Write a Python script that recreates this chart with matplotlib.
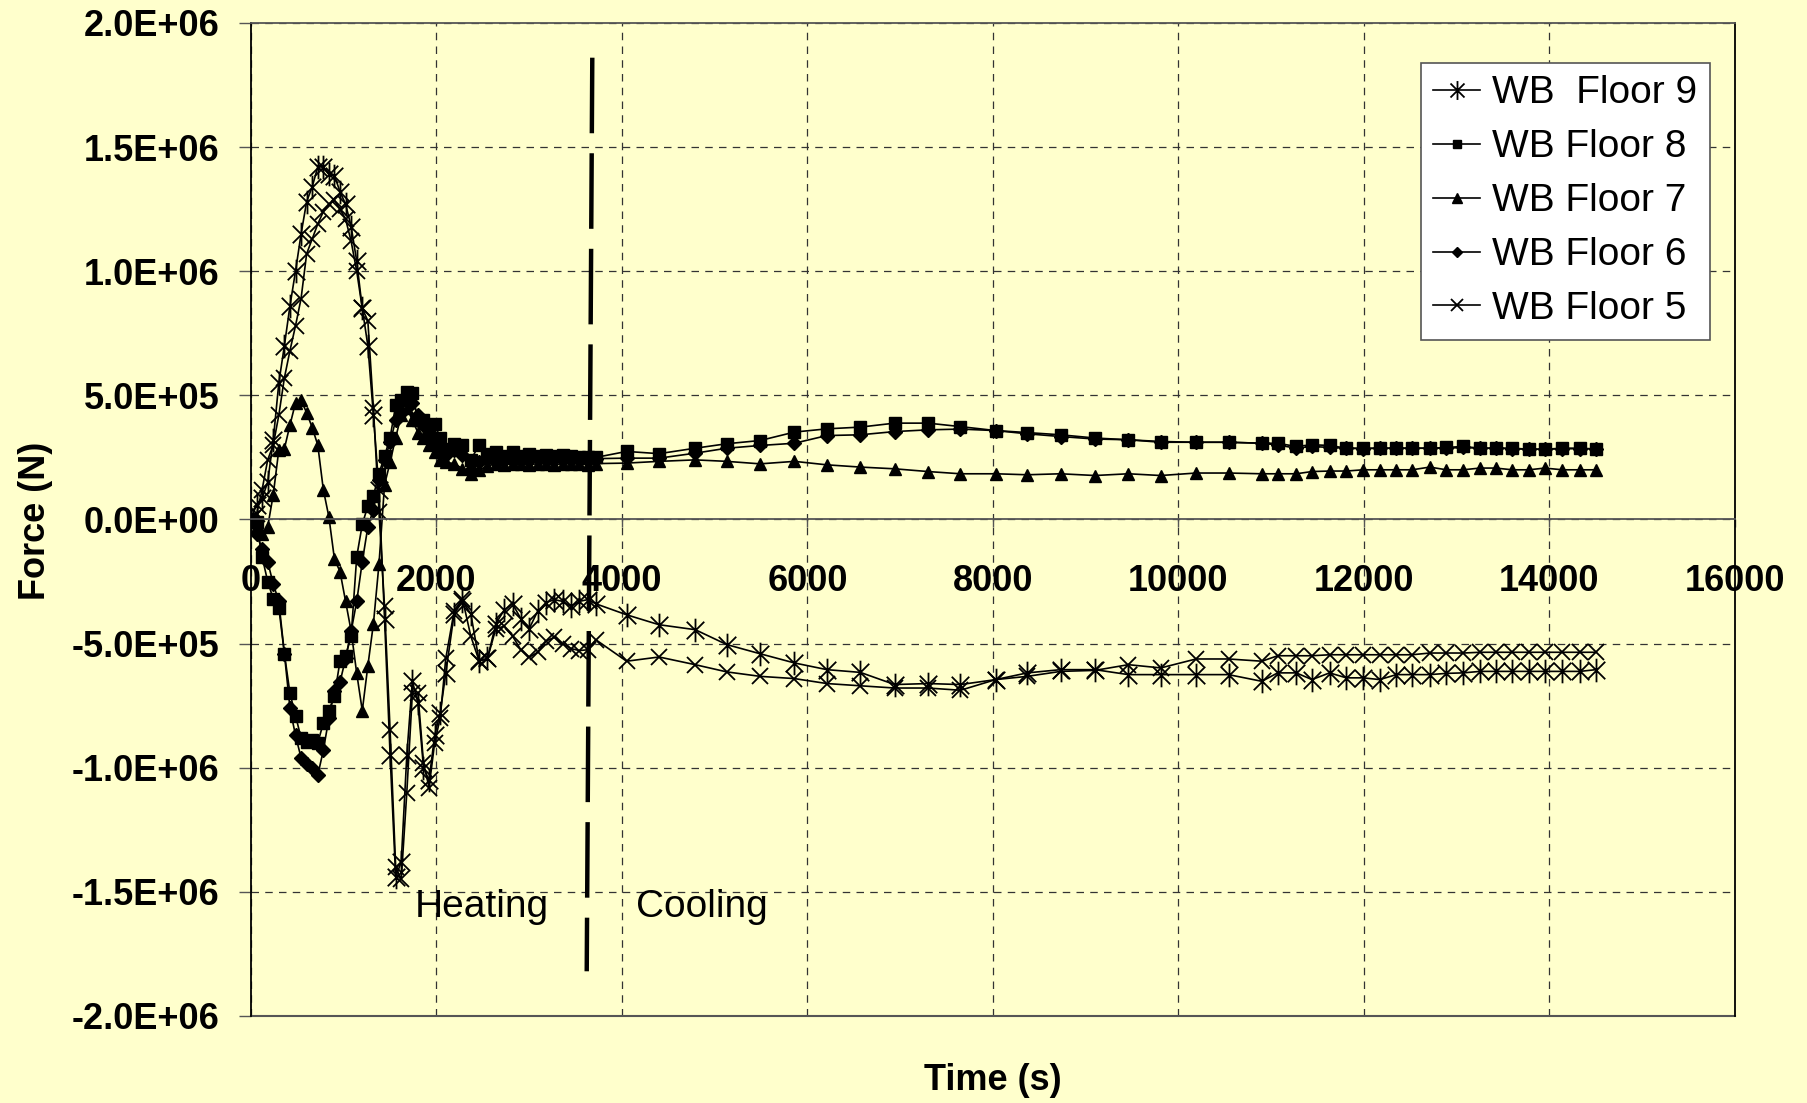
import matplotlib
matplotlib.use("Agg")
import matplotlib.pyplot as plt
from matplotlib.path import Path
from matplotlib.ticker import FuncFormatter, MultipleLocator

plt.rcParams['font.family'] = ['Liberation Sans', 'DejaVu Sans']

# time steps (s): heating phase then cooling phase
time_s = [0, 60, 120, 180, 240, 300, 360, 420, 480, 540, 600, 660, 720, 780, 840, 900,
          960, 1020, 1080, 1140, 1200, 1260, 1320, 1380, 1440, 1500, 1560, 1620, 1680,
          1740, 1800, 1860, 1920, 1980, 2040, 2100, 2190, 2280, 2370, 2460, 2550, 2640,
          2730, 2820, 2910, 3000, 3090, 3180, 3270, 3360, 3450, 3540, 3630, 3720,
          4050, 4400, 4790, 5130, 5490, 5860, 6210, 6570, 6940, 7300, 7650, 8030, 8370,
          8730, 9100, 9460, 9810, 10190, 10540, 10900, 11070, 11270, 11440, 11630, 11810,
          11990, 12170, 12350, 12520, 12710, 12890, 13070, 13250, 13420, 13600, 13780,
          13950, 14140, 14330, 14500]

# forces in kN
wb_floor9 = [0, 60, 85, 150, 320, 550, 700, 860, 1000, 1150, 1280, 1340, 1420, 1420, 1390,
             1385, 1320, 1270, 1180, 1040, 850, 700, 420, 120, -400, -950, -1440, -1380,
             -950, -650, -740, -1000, -1050, -870, -780, -620, -380, -330, -380, -570, -560,
             -420, -365, -340, -400, -440, -370, -335, -323, -330, -350, -330, -323, -340,
             -384, -424, -444, -504, -541, -578, -605, -616, -665, -661, -665, -645, -618,
             -605, -605, -625, -625, -625, -625, -652, -618, -618, -645, -618, -638, -638,
             -645, -625, -625, -625, -620, -618, -612, -612, -612, -612, -612, -612, -612, -605]
wb_floor8 = [0, -10, -150, -250, -320, -355, -540, -700, -790, -880, -895, -890, -900, -820,
             -770, -710, -570, -550, -470, -150, -20, 55, 95, 185, 255, 330, 460, 480, 515,
             510, 400, 400, 350, 385, 330, 285, 305, 300, 240, 300, 265, 270, 255, 270, 255,
             265, 255, 260, 255, 260, 255, 250, 250, 250,
             274, 265, 287, 305, 318, 352, 365, 372, 388, 388, 374, 358, 350, 341, 328, 321,
             314, 311, 311, 307, 307, 294, 301, 298, 287, 287, 287, 287, 287, 287, 290, 294,
             287, 287, 287, 283, 283, 287, 287, 283]
wb_floor7 = [0, -30, -60, -30, 100, 280, 285, 380, 470, 480, 430, 370, 300, 120, 10, -160,
             -210, -330, -450, -620, -770, -590, -420, -180, 140, 230, 330, 420, 450, 400,
             350, 330, 300, 270, 240, 230, 225, 205, 185, 200, 215, 225, 220, 225, 225, 220,
             225, 225, 220, 225, 225, 225, 220, 225,
             227, 234, 240, 234, 224, 234, 220, 211, 204, 193, 184, 184, 180, 184, 177, 184,
             177, 187, 187, 184, 184, 184, 193, 195, 195, 200, 200, 200, 200, 211, 200, 200,
             207, 207, 200, 200, 207, 200, 200, 200]
wb_floor6 = [0, -60, -120, -170, -260, -330, -540, -760, -870, -960, -985, -1000, -1030, -930,
             -800, -690, -655, -560, -450, -330, -170, -30, 40, 160, 240, 310, 400, 430, 480,
             470, 420, 380, 330, 310, 290, 260, 280, 260, 200, 230, 245, 230, 245, 235, 245,
             240, 250, 240, 245, 240, 245, 240, 245, 245,
             247, 247, 267, 287, 298, 307, 338, 341, 354, 361, 364, 358, 345, 334, 324, 321,
             311, 311, 311, 307, 300, 287, 294, 290, 287, 285, 287, 287, 287, 287, 287, 290,
             287, 287, 285, 283, 283, 285, 285, 285]
wb_floor5 = [0, 20, 120, 240, 300, 420, 570, 680, 780, 890, 1070, 1130, 1190, 1240, 1270,
             1285, 1250, 1210, 1120, 1000, 850, 800, 450, 30, -350, -850, -1400, -1450, -1100,
             -700, -700, -980, -1080, -900, -800, -560, -370, -320, -470, -570, -560, -440,
             -430, -470, -525, -555, -535, -490, -475, -500, -520, -528, -525, -485,
             -571, -554, -585, -614, -632, -641, -661, -670, -679, -679, -688, -645, -632,
             -612, -608, -585, -598, -562, -562, -571, -549, -549, -549, -545, -545, -545,
             -545, -545, -545, -538, -538, -538, -535, -535, -535, -535, -535, -535, -535, -535]

labels = ['WB  Floor 9', 'WB Floor 8', 'WB Floor 7', 'WB Floor 6', 'WB Floor 5']

# Excel style asterisk: an X with a vertical bar
asterisk = Path([(-1, -1), (1, 1), (-1, 1), (1, -1), (0, -1.35), (0, 1.35)],
                [Path.MOVETO, Path.LINETO] * 3)

bg = '#FFFFCC'
fig = plt.figure(figsize=(18.07, 11.03), dpi=100, facecolor=bg)
ax = fig.add_axes([0.1389, 0.0789, 0.8212, 0.9003], facecolor=bg)

series = [wb_floor9, wb_floor8, wb_floor7, wb_floor6, wb_floor5]
styles = [dict(marker=asterisk, ms=17, mew=1.3),
          dict(marker='s', ms=8),
          dict(marker='^', ms=9),
          dict(marker='D', ms=7),
          dict(marker='x', ms=11, mew=1.3)]
for vals, lab, st in zip(series, labels, styles):
    ax.plot(time_s, [v * 1000 for v in vals], color='black', lw=1.2,
            mfc='black', mec='black', label=lab, **st)

# heating / cooling divider
ax.plot([3680, 3620], [1.86e6, -1.82e6], color='black', lw=3.2, dashes=(17, 4.5))
ax.text(1765, -1.563e6, 'Heating', fontsize=28, va='center', ha='left')
ax.text(4149, -1.563e6, 'Cooling', fontsize=28, va='center', ha='left')

ax.set_xlim(0, 16000)
ax.set_ylim(-2e6, 2e6)
ax.xaxis.set_major_locator(MultipleLocator(2000))
ax.yaxis.set_major_locator(MultipleLocator(5e5))
ax.yaxis.set_major_formatter(FuncFormatter(lambda v, p: f"{v:.1E}".replace('-0.0', '0.0')))

ax.set_axisbelow(True)
ax.grid(True, color='#333333', lw=0.9, ls=(0, (6, 5)))

ax.spines['bottom'].set_position(('data', 0))
ax.spines['bottom'].set_color('#555555')
ax.spines['top'].set_color('#555555')
ax.spines['left'].set_color('black')
ax.spines['right'].set_color('black')
for s in ax.spines.values():
    s.set_linewidth(1.3)
ax.axhline(-2e6, color='#555555', lw=1.5, clip_on=False)

ax.tick_params(axis='y', direction='out', length=8.5, width=1, pad=14,
               labelsize=26, color='#555555')
ax.tick_params(axis='x', direction='out', length=6, width=1, pad=26,
               labelsize=26, color='#555555')
for t in ax.get_xticklabels() + ax.get_yticklabels():
    t.set_fontweight('bold')

fig.text(0.5495, 0.020, 'Time (s)', fontsize=26, fontweight='bold', ha='center', va='center')
fig.text(0.0194, 0.528, 'Force (N)', fontsize=26, fontweight='bold', ha='center',
         va='center', rotation=90)

leg = ax.legend(loc='upper right', bbox_to_anchor=(0.983, 0.96), borderaxespad=0,
                fontsize=28, frameon=True, fancybox=False, framealpha=1,
                facecolor='white', edgecolor='#555555', handlelength=1.2,
                handletextpad=0.3, labelspacing=0.46, borderpad=0.33,
                markerscale=0.8)
leg.get_frame().set_linewidth(1.2)

fig.savefig('out.png', dpi=100, facecolor=bg)
